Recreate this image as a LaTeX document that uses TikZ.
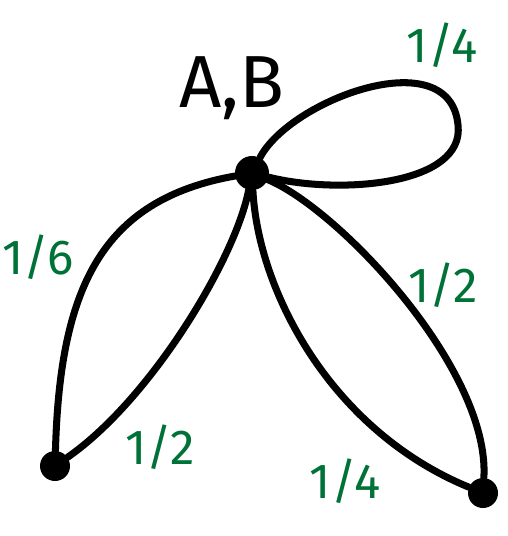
\documentclass[tikz,border=0pt]{standalone}
\usepackage{fontspec}
\setmainfont{Fira Sans}
\usepackage{tikz}
\usepackage{xcolor}
\definecolor{inkgreen}{RGB}{0,114,56}
\tikzstyle{vertex} = [circle, fill=black, inner sep=0pt, minimum size=30*0.02cm]
\tikzstyle{edge} = [draw, line width=4pt, line cap=round, line join=round]
\tikzstyle{weight} = [text=inkgreen, font=\fontsize{28}{32}\selectfont]

\begin{document}
\begin{tikzpicture}[x=0.02cm,y=-0.02cm]
      \useasboundingbox (0,0) rectangle (507,536);

      % vertices
      \node[vertex, minimum size=34*0.02cm] (ab) at (252,173) {};
      \node[vertex] (l) at (55,466) {};
      \node[vertex] (r) at (483,493) {};
      \coordinate (tip) at (458,125);
      \node[font=\fontsize{42}{48}\selectfont] (name) at (232,88) {A,B};

      % loop
      \draw[edge] (ab) .. controls (290,100) and (450,40) .. (tip)
                       .. controls (465,185) and (340,195) .. (ab);

      % edges to the left vertex
      \draw[edge] (ab) .. controls (100,200) and (60,290) .. (l);
      \draw[edge] (ab) .. controls (235,260) and (150,400) .. (l);

      % edges to the right vertex
      \draw[edge] (ab) .. controls (340,210) and (490,370) .. (r);
      \draw[edge] (ab) .. controls (258,290) and (330,430) .. (r);

      % green weights
      \node[weight] (w1) at (442,45) {1/4};
      \node[weight] (w2) at (38,257) {1/6};
      \node[weight] (w3) at (160,447) {1/2};
      \node[weight] (w4) at (443,285) {1/2};
      \node[weight] (w5) at (345,481) {1/4};
    \end{tikzpicture}
\end{document}
